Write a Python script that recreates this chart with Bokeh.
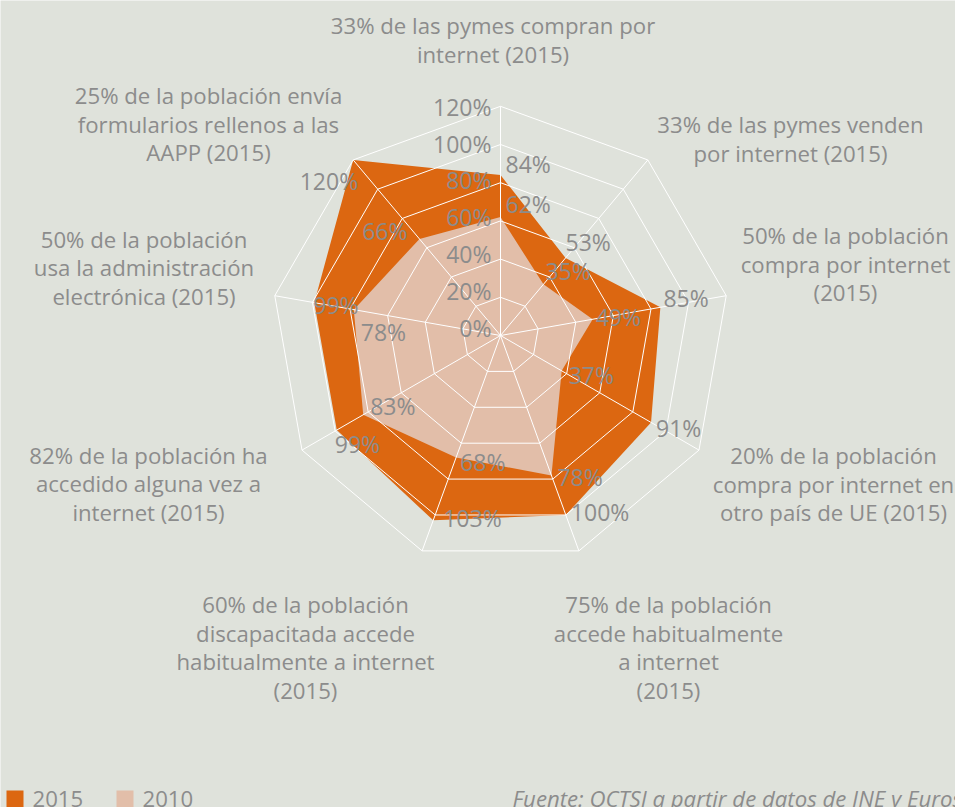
import math
from bokeh.plotting import figure
from bokeh.models import Range1d, ColumnDataSource
from bokeh.core.properties import value
from bokeh.embed import file_html
from bokeh.resources import INLINE

# ---------------- data ----------------
categories = [
    "33% de las pymes compran por\ninternet (2015)",
    "33% de las pymes venden\npor internet (2015)",
    "50% de la población\ncompra por internet\n(2015)",
    "20% de la población\ncompra por internet en\notro país de UE (2015)",
    "75% de la población\naccede habitualmente\na internet\n(2015)",
    "60% de la población\ndiscapacitada accede\nhabitualmente a internet\n(2015)",
    "82% de la población ha\naccedido alguna vez a\ninternet (2015)",
    "50% de la población\nusa la administración\nelectrónica (2015)",
    "25% de la población envía\nformularios rellenos a las\nAAPP (2015)",
]
values_2015 = [84, 53, 85, 91, 100, 103, 99, 99, 120]
values_2010 = [62, 35, 49, 37, 78, 68, 83, 78, 66]
tick_values = [0, 20, 40, 60, 80, 100, 120]
tick_labels = ["0%", "20%", "40%", "60%", "80%", "100%", "120%"]
series_names = ["2015", "2010"]
source_note = "Fuente: OCTSI a partir de datos de INE y Eurostat"

# ---------------- style / layout ----------------
BG = "#dfe2db"
ORANGE = "#dc6711"
LIGHT = "#e2bea9"
GRAY = "#8c8c8c"
FONT = "Open Sans"
FS = "22.2px"
FS_NUM = "23px"

W, H = 955, 807
S = 1.91            # pixels per percent
CX, CY = 500, 335   # radar centre in canvas pixels
BASE_SHIFT = -8     # alphabetic-baseline correction in pixels

def sx2d(sx):
    return (sx - CX) / S

def sy2d(sy):
    return (CY - sy) / S

p = figure(width=W, height=H, output_backend="svg", toolbar_location=None,
           x_range=Range1d(-CX / S, (W - CX) / S),
           y_range=Range1d(-(H - CY) / S, CY / S),
           min_border=0)
p.axis.visible = False
p.grid.visible = False
p.outline_line_color = None
p.background_fill_color = BG
p.border_fill_color = BG

n = len(categories)
angles = [2 * math.pi * i / n for i in range(n)]

def polar(vals):
    xs = [v * math.sin(a) for v, a in zip(vals, angles)]
    ys = [v * math.cos(a) for v, a in zip(vals, angles)]
    return xs, ys

# filled series
x15, y15 = polar(values_2015)
x10, y10 = polar(values_2010)
p.patch(x15, y15, fill_color=ORANGE, line_color=None)
p.patch(x10, y10, fill_color=LIGHT, line_color=None)

# grid rings and spokes (drawn over the fills)
ring_xs, ring_ys = [], []
for t in tick_values[1:]:
    rx, ry = polar([t] * n)
    ring_xs.append(rx + [rx[0]])
    ring_ys.append(ry + [ry[0]])
p.multi_line(ring_xs, ring_ys, line_color="white", line_width=1)
ox, oy = polar([tick_values[-1]] * n)
p.multi_line([[0, x] for x in ox], [[0, y] for y in oy], line_color="white", line_width=1)

# tick labels along the top spoke (labels drift slightly upward toward the centre)
tmax = tick_values[-1]
tick_dy = [0.5 - 8.5 * (tmax - t) / tmax for t in tick_values]
p.text(x="x", y="y", text="t", y_offset="dy",
       source=ColumnDataSource(dict(x=[0] * len(tick_values), y=tick_values,
                                    t=tick_labels, dy=tick_dy)),
       text_font=value(FONT), text_font_size=FS_NUM, text_color=GRAY,
       text_align="right", text_baseline="middle", x_offset=-9)

# data labels
lab_dx_15 = [5, 0, 3, 5, 5, 10, -2, -1, 5]
lab_dy_15 = [-11, -16, -9, 6, -3, -2, 14, 2, 21]
lab_al_15 = ["left"] * 8 + ["right"]
lab_dx_10 = [5, 2, 3, 7, 6, 4, 7, 7, -12]
lab_dy_10 = [-13, -13, -2, 4, 2, 4, -9, 22, -8]
lab_al_10 = ["left"] * 8 + ["right"]

for xs, ys, vals, dxs, dys, als in [
    (x15, y15, values_2015, lab_dx_15, lab_dy_15, lab_al_15),
    (x10, y10, values_2010, lab_dx_10, lab_dy_10, lab_al_10),
]:
    src = ColumnDataSource(dict(x=xs, y=ys, t=[f"{v}%" for v in vals],
                                dx=dxs, dy=dys, al=als))
    p.text(x="x", y="y", text="t", source=src, x_offset="dx", y_offset="dy",
           text_align="al", text_baseline="middle",
           text_font=value(FONT), text_font_size=FS_NUM, text_color=GRAY)

# category labels (anchor: centre x, first baseline, pixel offsets from centre)
cat_anchor = [(-7.5, -302), (290, -202.7), (345, -91.7), (333, 128.3),
              (168, 277.3), (-195, 277.3), (-352, 127.7), (-356.5, -88.3),
              (-292, -231.7)]
LINE = 28.5
cx_l, cy_l, ct, cdx, cdy = [], [], [], [], []
for label, (ax, ay) in zip(categories, cat_anchor):
    for k, line in enumerate(label.split("\n")):
        cx_l.append(0); cy_l.append(0); ct.append(line)
        cdx.append(ax); cdy.append(ay + k * LINE + BASE_SHIFT)
p.text(x="x", y="y", text="t", x_offset="dx", y_offset="dy",
       source=ColumnDataSource(dict(x=cx_l, y=cy_l, t=ct, dx=cdx, dy=cdy)),
       text_align="center", text_baseline="alphabetic",
       text_font=value(FONT), text_font_size=FS, text_color=GRAY)

# legend
leg_colors = [ORANGE, LIGHT]
leg_left = [6, 116]
for name, col, lx in zip(series_names, leg_colors, leg_left):
    p.quad(left=sx2d(lx), right=sx2d(lx + 17), top=sy2d(790), bottom=sy2d(808),
           fill_color=col, line_color=None)
    p.text(x=[sx2d(lx + 26)], y=[sy2d(806 + BASE_SHIFT)], text=[name],
           text_font=value(FONT), text_font_size=FS, text_color=GRAY,
           text_align="left", text_baseline="alphabetic")

# source note
p.text(x=[sx2d(512)], y=[sy2d(806 + BASE_SHIFT)], text=[source_note],
       text_font=value(FONT), text_font_size=FS, text_font_style="italic",
       text_color=GRAY, text_align="left", text_baseline="alphabetic")

html = file_html(p, INLINE)
html = html.replace("<body>", '<body style="background-color:%s;">' % BG, 1)
open("out.html", "w").write(html)
